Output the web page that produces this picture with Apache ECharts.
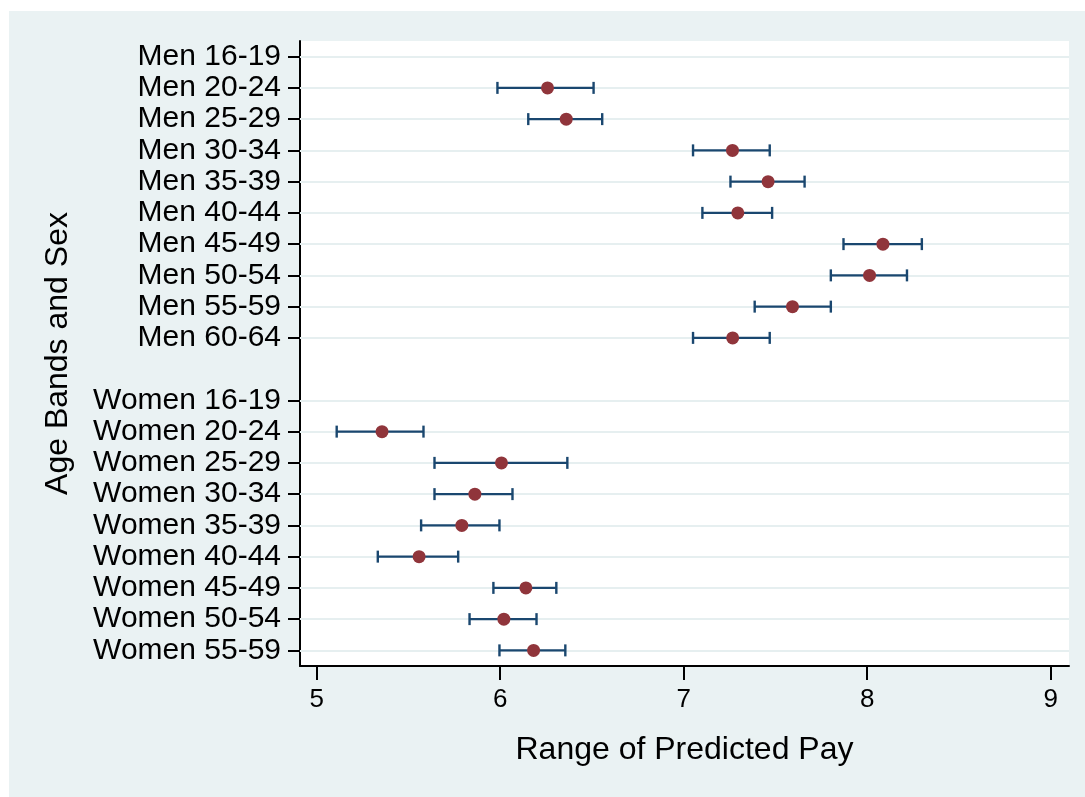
<!DOCTYPE html>
<html>
<head>
<meta charset="utf-8">
<script src="https://cdn.jsdelivr.net/npm/echarts@6/dist/echarts.min.js"></script>
<style>
  body { margin: 0; background: #fff; }
  #chart { position: absolute; left: 9px; top: 11px; width: 1076px; height: 786px; }
</style>
</head>
<body>
<div id="chart"></div>
<script>
// age bands, a blank slot separates men and women
const categorias = ['Men 16-19', 'Men 20-24', 'Men 25-29', 'Men 30-34', 'Men 35-39', 'Men 40-44',
    'Men 45-49', 'Men 50-54', 'Men 55-59', 'Men 60-64', '',
    'Women 16-19', 'Women 20-24', 'Women 25-29', 'Women 30-34', 'Women 35-39', 'Women 40-44',
    'Women 45-49', 'Women 50-54', 'Women 55-59']

const previsto = [null, 6.258, 6.36, 7.266, 7.46, 7.295, 8.086, 8.013, 7.593, 7.267, null,
    null, 5.356, 6.007, 5.862, 5.791, 5.558, 6.14, 6.02, 6.182]
const inferior = [null, 5.985, 6.153, 7.051, 7.255, 7.102, 7.871, 7.802, 7.387, 7.051, null,
    null, 5.109, 5.642, 5.642, 5.569, 5.333, 5.963, 5.833, 5.996]
const superior = [null, 6.509, 6.556, 7.469, 7.659, 7.482, 8.298, 8.217, 7.802, 7.469, null,
    null, 5.582, 6.366, 6.067, 5.996, 5.771, 6.306, 6.198, 6.355]

const ticksX = [5, 6, 7, 8, 9]

function dadosPontos(){
    let dados = []
    previsto.forEach((v, i) => {
        if (v != null) dados.push([v, i])
    })
    return dados
}

function dadosBarras(){
    let dados = []
    inferior.forEach((v, i) => {
        if (v != null) dados.push([v, superior[i], i])
    })
    return dados
}

// linhas de grade passam pelo centro de cada categoria
function linhasGrade(){
    return categorias.filter((c) => c !== '').map((c) => ({ yAxis: c }))
}

const naoVazio = (idx, valor) => valor !== ''

const fonte = "'Liberation Sans', Arial, sans-serif"

let option = {
    backgroundColor: '#eaf2f3',
    animation: false,
    grid: {
        left: 291,
        top: 30,
        right: 16,
        bottom: 131,
        show: true,
        backgroundColor: '#ffffff',
        borderWidth: 0
    },
    xAxis: {
        type: 'value',
        min: 4.909,
        max: 9.1,
        name: 'Range of Predicted Pay',
        nameLocation: 'middle',
        nameGap: 68,
        nameTextStyle: { fontFamily: fonte, fontSize: 32, color: '#000' },
        axisLine: { show: true, onZero: false, lineStyle: { color: '#000', width: 2 } },
        axisTick: { show: true, length: 14, customValues: ticksX, lineStyle: { color: '#000', width: 2 } },
        axisLabel: { customValues: ticksX, fontFamily: fonte, fontSize: 26, color: '#000', margin: 21 },
        splitLine: { show: false }
    },
    yAxis: {
        type: 'category',
        data: categorias,
        inverse: true,
        boundaryGap: true,
        name: 'Age Bands and Sex',
        nameLocation: 'middle',
        nameRotate: 90,
        nameGap: 226,
        nameTextStyle: { fontFamily: fonte, fontSize: 32, color: '#000' },
        axisLine: { show: true, lineStyle: { color: '#000', width: 2 } },
        axisTick: { show: true, alignWithLabel: true, length: 12, interval: naoVazio,
            lineStyle: { color: '#000', width: 2 } },
        axisLabel: { interval: 0, fontFamily: fonte, fontSize: 30, color: '#000', margin: 19 },
        splitLine: { show: false }
    },
    series: [
        {
            type: 'line',
            data: [],
            z: 1,
            silent: true,
            markLine: {
                silent: true,
                z: 1,
                symbol: 'none',
                label: { show: false },
                lineStyle: { color: '#e6eff0', width: 2, type: 'solid' },
                data: linhasGrade()
            }
        },
        {
            type: 'custom',
            data: dadosBarras(),
            encode: { x: [0, 1], y: 2 },
            z: 4,
            renderItem: function (params, api) {
                const a = api.coord([api.value(0), api.value(2)])
                const b = api.coord([api.value(1), api.value(2)])
                const h = 6
                const estilo = { stroke: '#1a476f', lineWidth: 2.4 }
                return {
                    type: 'group',
                    children: [
                        { type: 'line', shape: { x1: a[0], y1: a[1], x2: b[0], y2: b[1] }, style: estilo },
                        { type: 'line', shape: { x1: a[0], y1: a[1] - h, x2: a[0], y2: a[1] + h }, style: estilo },
                        { type: 'line', shape: { x1: b[0], y1: b[1] - h, x2: b[0], y2: b[1] + h }, style: estilo }
                    ]
                }
            }
        },
        {
            type: 'scatter',
            data: dadosPontos(),
            z: 6,
            symbol: 'circle',
            symbolSize: 13,
            itemStyle: { color: '#90353b', opacity: 1 }
        }
    ]
}

const chart = echarts.init(document.getElementById('chart'))
chart.setOption(option)
</script>
</body>
</html>
